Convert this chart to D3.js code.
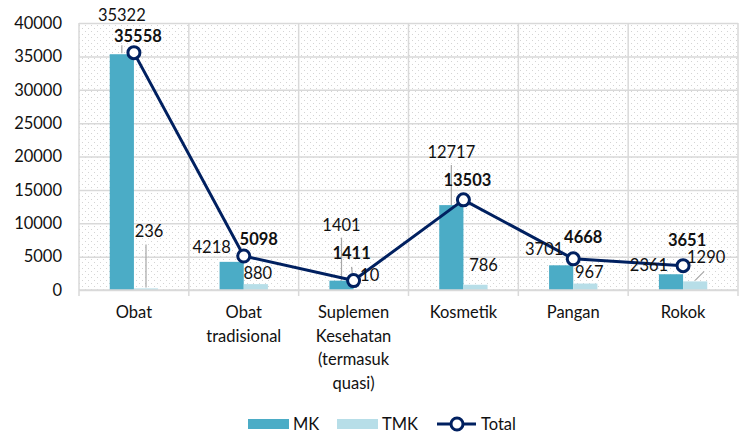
<!DOCTYPE html>
<html>
<head>
<meta charset="utf-8">
<script src="https://cdn.jsdelivr.net/npm/d3@7"></script>
<style>
  body { margin: 0; background: #fff; }
  text { font-family: Lato, "Open Sans", sans-serif; fill: #111; }
</style>
</head>
<body>
<div id="chart"></div>
<script>
const categories = ["Obat", "Obat\ntradisional", "Suplemen\nKesehatan\n(termasuk\nquasi)", "Kosmetik", "Pangan", "Rokok"];
const mk = [35322, 4218, 1401, 12717, 3701, 2361];
const tmk = [236, 880, 10, 786, 967, 1290];
const total = [35558, 5098, 1411, 13503, 4668, 3651];
const yTicks = [0, 5000, 10000, 15000, 20000, 25000, 30000, 35000, 40000];
const seriesNames = ["MK", "TMK", "Total"];

const width = 739, height = 433;
const margin = {top: 23, right: 1, bottom: 143, left: 79};
const colMK = "#4bacc6", colTMK = "#b7dee8", colLine = "#002060", gridCol = "#d9d9d9";

// hand-placed label offsets (like the moved labels in the original)
const mkLab = [[0, -39], [-20, -15], [0, -56], [0, -53], [-17, -16], [-22, -9]];
const tmkLab = [[3, -57], [2, -11], [4, -15], [8, -20], [4, -12], [11, -24]];
const totLab = [[4, -17], [15, -17], [-2, -28], [4, -20], [10, -22], [4, -26]];

const svg = d3.select("#chart").append("svg")
  .attr("width", width)
  .attr("height", height);

const defs = svg.append("defs");
const pat = defs.append("pattern")
  .attr("id", "dots")
  .attr("patternUnits", "userSpaceOnUse")
  .attr("width", 6).attr("height", 6);
pat.append("rect").attr("width", 6).attr("height", 6).attr("fill", "#fff");
pat.append("rect").attr("x", 1).attr("y", 1).attr("width", 1).attr("height", 1).attr("fill", "#d4d4d4");
pat.append("rect").attr("x", 4).attr("y", 4).attr("width", 1).attr("height", 1).attr("fill", "#d4d4d4");

const x = d3.scaleBand()
  .domain(categories)
  .range([margin.left, width - margin.right]);
const y = d3.scaleLinear()
  .domain([0, 40000])
  .range([height - margin.bottom, margin.top]);

const bw = x.bandwidth() * 0.22;
const cx = d => x(d) + x.bandwidth() / 2;

svg.append("rect")
  .attr("x", margin.left)
  .attr("y", margin.top)
  .attr("width", width - margin.left - margin.right)
  .attr("height", y(0) - margin.top)
  .attr("fill", "url(#dots)");

// horizontal grid + y labels
const gy = svg.append("g")
  .attr("transform", `translate(${margin.left},0)`)
  .call(d3.axisLeft(y).tickValues(yTicks).tickFormat(d3.format("d"))
    .tickSize(-(width - margin.left - margin.right)).tickPadding(17))
  .call(g => g.select(".domain").remove());
gy.selectAll(".tick line").attr("stroke", gridCol).attr("stroke-width", 1.5);
gy.selectAll(".tick text").attr("font-size", 16.5).attr("font-family", "Lato").attr("fill", "#111");

// vertical grid at category boundaries
svg.append("g")
  .selectAll("line")
  .data(d3.range(categories.length + 1))
  .join("line")
  .attr("x1", i => margin.left + i * x.bandwidth())
  .attr("x2", i => margin.left + i * x.bandwidth())
  .attr("y1", margin.top)
  .attr("y2", y(0) + 6)
  .attr("stroke", gridCol)
  .attr("stroke-width", 1.5);

// bars
svg.append("g").selectAll("rect")
  .data(categories)
  .join("rect")
  .attr("x", d => cx(d) - bw)
  .attr("y", (d, i) => y(mk[i]))
  .attr("width", bw)
  .attr("height", (d, i) => y(0) - y(mk[i]))
  .attr("fill", colMK);

svg.append("g").selectAll("rect")
  .data(categories)
  .join("rect")
  .attr("x", d => cx(d))
  .attr("y", (d, i) => y(tmk[i]))
  .attr("width", bw)
  .attr("height", (d, i) => y(0) - y(tmk[i]))
  .attr("fill", colTMK);

// x axis line
svg.append("line")
  .attr("x1", margin.left).attr("x2", width - margin.right)
  .attr("y1", y(0)).attr("y2", y(0))
  .attr("stroke", gridCol).attr("stroke-width", 1.5);

// leader lines
const leaders = [
  [cx(categories[0]) - bw / 2, y(mk[0]) - 9, cx(categories[0]) - bw / 2, y(mk[0]) - 1],
  [cx(categories[2]) - bw / 2, y(mk[2]) - 43, cx(categories[2]) - bw / 2, y(mk[2])],
  [cx(categories[3]) - bw / 2, y(mk[3]) - 40, cx(categories[3]) - bw / 2, y(mk[3])],
  [cx(categories[0]) + bw / 2, y(tmk[0]) - 44, cx(categories[0]) + bw / 2, y(tmk[0]) - 1],
  [cx(categories[2]) - 2, y(tmk[2]) - 23, cx(categories[2]) - 1, y(tmk[2]) - 13],
  [cx(categories[5]) + bw / 2, y(tmk[5]) - 1, cx(categories[5]) + bw / 2 + 9, y(tmk[5]) - 10]
];
svg.append("g").selectAll("line")
  .data(leaders)
  .join("line")
  .attr("x1", d => d[0]).attr("y1", d => d[1])
  .attr("x2", d => d[2]).attr("y2", d => d[3])
  .attr("stroke", "#a6a6a6").attr("stroke-width", 1.2);

// total line
const line = d3.line()
  .x((d, i) => cx(categories[i]))
  .y(d => y(d));
svg.append("path")
  .datum(total)
  .attr("d", line)
  .attr("fill", "none")
  .attr("stroke", colLine)
  .attr("stroke-width", 3)
  .attr("stroke-linejoin", "round");
svg.append("g").selectAll("circle")
  .data(total)
  .join("circle")
  .attr("cx", (d, i) => cx(categories[i]))
  .attr("cy", d => y(d))
  .attr("r", 6)
  .attr("fill", "#fff")
  .attr("stroke", colLine)
  .attr("stroke-width", 3);

// data labels
const labels = svg.append("g")
  .attr("font-size", 16.5)
  .attr("text-anchor", "middle")
  .attr("dominant-baseline", "central");
labels.selectAll(".mk")
  .data(mk)
  .join("text")
  .attr("class", "mk")
  .attr("x", (d, i) => cx(categories[i]) - bw / 2 + mkLab[i][0])
  .attr("y", (d, i) => y(d) + mkLab[i][1])
  .text(d => d);
labels.selectAll(".tmk")
  .data(tmk)
  .join("text")
  .attr("class", "tmk")
  .attr("x", (d, i) => cx(categories[i]) + bw / 2 + tmkLab[i][0])
  .attr("y", (d, i) => y(d) + tmkLab[i][1])
  .text(d => d);
labels.selectAll(".tot")
  .data(total)
  .join("text")
  .attr("class", "tot")
  .attr("font-weight", "bold")
  .attr("x", (d, i) => cx(categories[i]) + totLab[i][0])
  .attr("y", (d, i) => y(d) + totLab[i][1])
  .text(d => d);

// category labels
const gx = svg.append("g")
  .attr("transform", `translate(0,${y(0)})`)
  .call(d3.axisBottom(x).tickSize(0).tickFormat(""))
  .call(g => g.select(".domain").remove());
gx.selectAll(".tick").append("text")
  .attr("text-anchor", "middle")
  .attr("font-size", 16.5)
  .selectAll("tspan")
  .data(d => d.split("\n"))
  .join("tspan")
  .attr("x", 0)
  .attr("y", (d, i) => 28 + i * 23.5)
  .text(d => d);

// legend
const lg = svg.append("g").attr("transform", "translate(0,424)");
lg.append("rect").attr("x", 248).attr("y", -5).attr("width", 41).attr("height", 10).attr("fill", colMK);
lg.append("text").attr("x", 293).attr("y", 0).attr("dominant-baseline", "central").attr("font-size", 16.5).text(seriesNames[0]);
lg.append("rect").attr("x", 337).attr("y", -5).attr("width", 41).attr("height", 10).attr("fill", colTMK);
lg.append("text").attr("x", 382).attr("y", 0).attr("dominant-baseline", "central").attr("font-size", 16.5).text(seriesNames[1]);
lg.append("line").attr("x1", 437).attr("x2", 476).attr("y1", 0).attr("y2", 0).attr("stroke", colLine).attr("stroke-width", 3);
lg.append("circle").attr("cx", 457).attr("cy", 0).attr("r", 6).attr("fill", "#fff").attr("stroke", colLine).attr("stroke-width", 3);
lg.append("text").attr("x", 481).attr("y", 0).attr("dominant-baseline", "central").attr("font-size", 16.5).text(seriesNames[2]);
</script>
</body>
</html>
